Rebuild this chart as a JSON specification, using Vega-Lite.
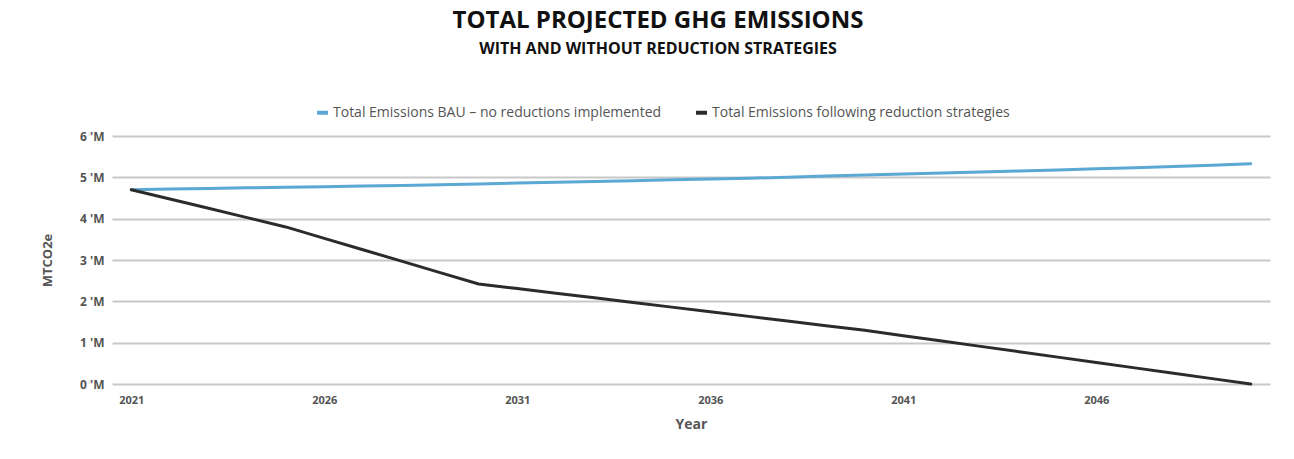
{
  "$schema": "https://vega.github.io/schema/vega-lite/v6.json",
  "width": 1158,
  "height": 248,
  "autosize": {"type": "none"},
  "padding": {"left": 112, "top": 136, "right": 24, "bottom": 75},
  "background": "white",
  "config": {"view": {"stroke": null}},
  "title": {
    "text": "TOTAL PROJECTED GHG EMISSIONS",
    "subtitle": "WITH AND WITHOUT REDUCTION STRATEGIES",
    "anchor": "middle",
    "frame": "group",
    "dx": -33,
    "offset": 48,
    "font": "Open Sans",
    "fontSize": 24,
    "fontWeight": "bold",
    "color": "#111111",
    "subtitleFont": "Open Sans",
    "subtitleFontSize": 16,
    "subtitleFontWeight": "bold",
    "subtitleColor": "#111111",
    "subtitlePadding": 8
  },
  "data": {
    "values": [
      {"Year": 2021, "Series": "Total Emissions BAU – no reductions implemented", "Value": 4.70},
      {"Year": 2022, "Series": "Total Emissions BAU – no reductions implemented", "Value": 4.715},
      {"Year": 2023, "Series": "Total Emissions BAU – no reductions implemented", "Value": 4.73},
      {"Year": 2024, "Series": "Total Emissions BAU – no reductions implemented", "Value": 4.745},
      {"Year": 2025, "Series": "Total Emissions BAU – no reductions implemented", "Value": 4.76},
      {"Year": 2026, "Series": "Total Emissions BAU – no reductions implemented", "Value": 4.775},
      {"Year": 2027, "Series": "Total Emissions BAU – no reductions implemented", "Value": 4.79},
      {"Year": 2028, "Series": "Total Emissions BAU – no reductions implemented", "Value": 4.805},
      {"Year": 2029, "Series": "Total Emissions BAU – no reductions implemented", "Value": 4.82},
      {"Year": 2030, "Series": "Total Emissions BAU – no reductions implemented", "Value": 4.84},
      {"Year": 2031, "Series": "Total Emissions BAU – no reductions implemented", "Value": 4.86},
      {"Year": 2032, "Series": "Total Emissions BAU – no reductions implemented", "Value": 4.88},
      {"Year": 2033, "Series": "Total Emissions BAU – no reductions implemented", "Value": 4.90},
      {"Year": 2034, "Series": "Total Emissions BAU – no reductions implemented", "Value": 4.92},
      {"Year": 2035, "Series": "Total Emissions BAU – no reductions implemented", "Value": 4.94},
      {"Year": 2036, "Series": "Total Emissions BAU – no reductions implemented", "Value": 4.96},
      {"Year": 2037, "Series": "Total Emissions BAU – no reductions implemented", "Value": 4.98},
      {"Year": 2038, "Series": "Total Emissions BAU – no reductions implemented", "Value": 5.00},
      {"Year": 2039, "Series": "Total Emissions BAU – no reductions implemented", "Value": 5.03},
      {"Year": 2040, "Series": "Total Emissions BAU – no reductions implemented", "Value": 5.055},
      {"Year": 2041, "Series": "Total Emissions BAU – no reductions implemented", "Value": 5.08},
      {"Year": 2042, "Series": "Total Emissions BAU – no reductions implemented", "Value": 5.105},
      {"Year": 2043, "Series": "Total Emissions BAU – no reductions implemented", "Value": 5.13},
      {"Year": 2044, "Series": "Total Emissions BAU – no reductions implemented", "Value": 5.155},
      {"Year": 2045, "Series": "Total Emissions BAU – no reductions implemented", "Value": 5.18},
      {"Year": 2046, "Series": "Total Emissions BAU – no reductions implemented", "Value": 5.205},
      {"Year": 2047, "Series": "Total Emissions BAU – no reductions implemented", "Value": 5.23},
      {"Year": 2048, "Series": "Total Emissions BAU – no reductions implemented", "Value": 5.26},
      {"Year": 2049, "Series": "Total Emissions BAU – no reductions implemented", "Value": 5.29},
      {"Year": 2050, "Series": "Total Emissions BAU – no reductions implemented", "Value": 5.33},
      {"Year": 2021, "Series": "Total Emissions following reduction strategies", "Value": 4.70},
      {"Year": 2022, "Series": "Total Emissions following reduction strategies", "Value": 4.475},
      {"Year": 2023, "Series": "Total Emissions following reduction strategies", "Value": 4.25},
      {"Year": 2024, "Series": "Total Emissions following reduction strategies", "Value": 4.025},
      {"Year": 2025, "Series": "Total Emissions following reduction strategies", "Value": 3.80},
      {"Year": 2026, "Series": "Total Emissions following reduction strategies", "Value": 3.524},
      {"Year": 2027, "Series": "Total Emissions following reduction strategies", "Value": 3.248},
      {"Year": 2028, "Series": "Total Emissions following reduction strategies", "Value": 2.972},
      {"Year": 2029, "Series": "Total Emissions following reduction strategies", "Value": 2.696},
      {"Year": 2030, "Series": "Total Emissions following reduction strategies", "Value": 2.42},
      {"Year": 2031, "Series": "Total Emissions following reduction strategies", "Value": 2.308},
      {"Year": 2032, "Series": "Total Emissions following reduction strategies", "Value": 2.196},
      {"Year": 2033, "Series": "Total Emissions following reduction strategies", "Value": 2.084},
      {"Year": 2034, "Series": "Total Emissions following reduction strategies", "Value": 1.972},
      {"Year": 2035, "Series": "Total Emissions following reduction strategies", "Value": 1.86},
      {"Year": 2036, "Series": "Total Emissions following reduction strategies", "Value": 1.748},
      {"Year": 2037, "Series": "Total Emissions following reduction strategies", "Value": 1.636},
      {"Year": 2038, "Series": "Total Emissions following reduction strategies", "Value": 1.524},
      {"Year": 2039, "Series": "Total Emissions following reduction strategies", "Value": 1.412},
      {"Year": 2040, "Series": "Total Emissions following reduction strategies", "Value": 1.30},
      {"Year": 2041, "Series": "Total Emissions following reduction strategies", "Value": 1.17},
      {"Year": 2042, "Series": "Total Emissions following reduction strategies", "Value": 1.04},
      {"Year": 2043, "Series": "Total Emissions following reduction strategies", "Value": 0.91},
      {"Year": 2044, "Series": "Total Emissions following reduction strategies", "Value": 0.78},
      {"Year": 2045, "Series": "Total Emissions following reduction strategies", "Value": 0.65},
      {"Year": 2046, "Series": "Total Emissions following reduction strategies", "Value": 0.52},
      {"Year": 2047, "Series": "Total Emissions following reduction strategies", "Value": 0.39},
      {"Year": 2048, "Series": "Total Emissions following reduction strategies", "Value": 0.26},
      {"Year": 2049, "Series": "Total Emissions following reduction strategies", "Value": 0.13},
      {"Year": 2050, "Series": "Total Emissions following reduction strategies", "Value": 0.0}
    ]
  },
  "mark": {"type": "line", "strokeWidth": 3, "strokeCap": "round", "strokeJoin": "round"},
  "encoding": {
    "x": {
      "field": "Year",
      "type": "ordinal",
      "scale": {"type": "point", "padding": 0.5},
      "axis": {
        "values": [2021, 2026, 2031, 2036, 2041, 2046],
        "labelAngle": 0,
        "grid": false,
        "domain": false,
        "ticks": false,
        "labelFont": "Open Sans",
        "labelFontSize": 11,
        "labelFontWeight": "bold",
        "labelColor": "#555555",
        "labelPadding": 10,
        "title": "Year",
        "titleFont": "Open Sans",
        "titleFontSize": 14,
        "titleFontWeight": "bold",
        "titleColor": "#555555",
        "titlePadding": 12
      }
    },
    "y": {
      "field": "Value",
      "type": "quantitative",
      "scale": {"domain": [0, 6], "nice": false},
      "axis": {
        "values": [0, 1, 2, 3, 4, 5, 6],
        "labelExpr": "datum.value + \" 'M\"",
        "grid": true,
        "gridColor": "#c8c8c8",
        "gridWidth": 2,
        "domain": false,
        "ticks": false,
        "labelFont": "Open Sans",
        "labelFontSize": 12,
        "labelFontWeight": "bold",
        "labelColor": "#555555",
        "labelPadding": 8,
        "title": "MTCO2e",
        "titleFont": "Open Sans",
        "titleFontSize": 13,
        "titleFontWeight": "bold",
        "titleColor": "#555555",
        "titlePadding": 25
      }
    },
    "color": {
      "field": "Series",
      "type": "nominal",
      "scale": {
        "domain": ["Total Emissions BAU – no reductions implemented", "Total Emissions following reduction strategies"],
        "range": ["#5ba8d4", "#2b2b2b"]
      },
      "legend": {
        "title": null,
        "orient": "none",
        "direction": "horizontal",
        "legendX": 203,
        "legendY": -31,
        "symbolType": "stroke",
        "symbolStrokeWidth": 4,
        "symbolSize": 120,
        "labelFont": "Open Sans",
        "labelFontSize": 14,
        "labelColor": "#555555",
        "labelLimit": 0,
        "columnPadding": 26,
        "labelOffset": 3
      }
    }
  }
}
